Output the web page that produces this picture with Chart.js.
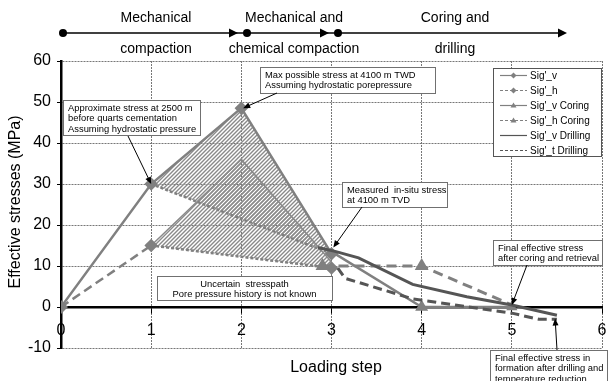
<!DOCTYPE html>
<html>
<head>
<meta charset="utf-8">
<script src="https://cdn.jsdelivr.net/npm/chart.js@4.4.0/dist/chart.umd.min.js"></script>
<style>
html, body { margin: 0; padding: 0; background: #fff; }
#wrap { width: 610px; height: 381px; }
</style>
</head>
<body>
<div id="wrap"><canvas id="myChart"></canvas></div>
<script>
// effective stresses (MPa) against loading step
var sigVSteps = [0, 1, 2, 3];
var sigV = [0, 30, 48.5, 13];
var sigHSteps = [0, 1, 3];
var sigH = [0, 15, 9.5];
var lowerEdgeSteps = [1, 3];        // dotted lower edge of the upper band
var lowerEdge = [30, 13];
var upperEdgeSteps = [1, 2, 3];     // thin upper edge of the lower band
var upperEdge = [15, 36, 11];
var sigVCoringSteps = [3, 4, 5];
var sigVCoring = [13.5, 0, 0];
var sigHCoringSteps = [2.9, 4, 5];
var sigHCoring = [10, 10, 0.5];
var sigVDrillSteps = [2.85, 3.05, 3.3, 3.9, 4.5, 5, 5.5];
var sigVDrill = [14.5, 13.5, 12, 5.5, 2.5, 0.5, -2];
var sigTDrillSteps = [3.07, 3.15, 3.9, 5, 5.3, 5.5];
var sigTDrill = [9.5, 7, 2, -1.5, -3, -3];

var phaseTop = ['Mechanical', 'Mechanical and', 'Coring and'];
var phaseBottom = ['compaction', 'chemical compaction', 'drilling'];

var FONT = '"Liberation Sans", Arial, sans-serif';
var grey = '#808080';
var dark = '#555555';

function pts(xs, ys) {
    return xs.map(function (x, i) { return {x: x, y: ys[i]}; });
}

function makeHatch() {
    var c = document.createElement('canvas');
    c.width = 4; c.height = 4;
    var g = c.getContext('2d');
    g.strokeStyle = '#8a8a8a';
    g.lineWidth = 1.4;
    g.beginPath();
    g.moveTo(0, 4); g.lineTo(4, 0);
    g.moveTo(-1, 1); g.lineTo(1, -1);
    g.moveTo(3, 5); g.lineTo(5, 3);
    g.stroke();
    return g.createPattern(c, 'repeat');
}

function arrow(ctx, x1, y1, x2, y2) {
    var a = Math.atan2(y2 - y1, x2 - x1);
    ctx.strokeStyle = '#000';
    ctx.fillStyle = '#000';
    ctx.lineWidth = 1;
    ctx.beginPath();
    ctx.moveTo(x1, y1);
    ctx.lineTo(x2 - 5 * Math.cos(a), y2 - 5 * Math.sin(a));
    ctx.stroke();
    ctx.beginPath();
    ctx.moveTo(x2, y2);
    ctx.lineTo(x2 - 7 * Math.cos(a) + 3 * Math.sin(a), y2 - 7 * Math.sin(a) - 3 * Math.cos(a));
    ctx.lineTo(x2 - 7 * Math.cos(a) - 3 * Math.sin(a), y2 - 7 * Math.sin(a) + 3 * Math.cos(a));
    ctx.closePath();
    ctx.fill();
}

function noteBox(ctx, b) {
    ctx.fillStyle = '#fff';
    ctx.fillRect(b.x, b.y, b.w, b.h);
    ctx.strokeStyle = '#707070';
    ctx.lineWidth = 1;
    ctx.strokeRect(b.x + 0.5, b.y + 0.5, b.w, b.h);
    ctx.fillStyle = '#000';
    ctx.font = '9.4px ' + FONT;
    ctx.textBaseline = 'top';
    ctx.textAlign = b.center ? 'center' : 'left';
    b.lines.forEach(function (t, i) {
        ctx.fillText(t, b.center ? b.x + b.w / 2 : b.x + 5, b.y + 3.5 + i * 10.5);
    });
}

var notes = [
    {x: 63, y: 100, w: 137, h: 35, lines: ['Approximate stress at 2500 m', 'before quarts cementation', 'Assuming hydrostatic pressure'],
     from: [128, 136], to: [1, 30]},
    {x: 260, y: 67, w: 175, h: 26, lines: ['Max possible stress at 4100 m TWD', 'Assuming hydrostatic porepressure'],
     from: [277, 93], to: [2.02, 48.5]},
    {x: 342, y: 182, w: 105, h: 25, lines: ['Measured  in-situ stress', 'at 4100 m TVD'],
     from: [362, 207], to: [3.02, 14.5]},
    {x: 493, y: 240, w: 109, h: 25, lines: ['Final effective stress', 'after coring and retrieval'],
     from: [527, 265], to: [5, 0.5]},
    {x: 157, y: 276, w: 175, h: 24, center: true, lines: ['Uncertain  stresspath', 'Pore pressure history is not known']},
    {x: 490, y: 350, w: 117, h: 40, lines: ['Final effective stress in', 'formation after drilling and', 'temperature reduction'],
     from: [557, 350], to: [5.48, -2.8]}
];

var hatch = makeHatch();

var extras = {
    id: 'extras',
    beforeDatasetsDraw: function (chart) {
        var ctx = chart.ctx, xs = chart.scales.x, ys = chart.scales.y, a = chart.chartArea;
        // hatched uncertainty bands, built from the series above
        var bandA = pts(sigVSteps.slice(1), sigV.slice(1));
        var bandB = pts(upperEdgeSteps, upperEdge).concat(pts([sigHSteps[2]], [sigH[2]]));
        ctx.save();
        ctx.beginPath();
        ctx.rect(a.left, a.top, a.right - a.left, a.bottom - a.top);
        ctx.clip();
        ctx.fillStyle = hatch;
        [bandA, bandB].forEach(function (poly) {
            ctx.beginPath();
            poly.forEach(function (p, i) {
                var px = xs.getPixelForValue(p.x), py = ys.getPixelForValue(p.y);
                if (i === 0) ctx.moveTo(px, py); else ctx.lineTo(px, py);
            });
            ctx.closePath();
            ctx.fill();
        });
        ctx.restore();
    },
    afterDraw: function (chart) {
        var ctx = chart.ctx, xs = chart.scales.x, ys = chart.scales.y;
        ctx.save();

        // phase timeline above the plot
        var ly = 33;
        ctx.strokeStyle = '#000';
        ctx.fillStyle = '#000';
        ctx.lineWidth = 1.5;
        ctx.beginPath(); ctx.moveTo(63, ly); ctx.lineTo(560, ly); ctx.stroke();
        [[238, ly], [329, ly], [567, ly]].forEach(function (p) {
            ctx.beginPath();
            ctx.moveTo(p[0], p[1]);
            ctx.lineTo(p[0] - 9, p[1] - 4.5);
            ctx.lineTo(p[0] - 9, p[1] + 4.5);
            ctx.closePath();
            ctx.fill();
        });
        [63, 247, 338].forEach(function (x) {
            ctx.beginPath(); ctx.arc(x, ly, 4, 0, Math.PI * 2); ctx.fill();
        });
        ctx.font = '14px ' + FONT;
        ctx.textAlign = 'center';
        ctx.textBaseline = 'middle';
        [156, 294, 455].forEach(function (x, i) {
            ctx.fillText(phaseTop[i], x, 18);
            ctx.fillText(phaseBottom[i], x, 49);
        });

        // axis titles
        ctx.font = '16px ' + FONT;
        ctx.fillText('Loading step', 336, 368);
        ctx.save();
        ctx.translate(16, 202);
        ctx.rotate(-Math.PI / 2);
        ctx.fillText('Effective stresses (MPa)', 0, 0);
        ctx.restore();

        // notes with arrows
        notes.forEach(function (n) {
            noteBox(ctx, n);
            if (n.to) arrow(ctx, n.from[0], n.from[1], xs.getPixelForValue(n.to[0]), ys.getPixelForValue(n.to[1]));
        });

        // legend box
        var lx = 493, ly0 = 68;
        ctx.fillStyle = '#fff';
        ctx.fillRect(lx, ly0, 108, 88);
        ctx.strokeStyle = '#555';
        ctx.lineWidth = 1;
        ctx.strokeRect(lx + 0.5, ly0 + 0.5, 108, 88);
        ctx.font = '10px ' + FONT;
        ctx.textAlign = 'left';
        ctx.textBaseline = 'middle';
        chart.data.datasets.filter(function (d) { return d.legendOrder; })
            .sort(function (p, q) { return p.legendOrder - q.legendOrder; })
            .forEach(function (d, i) {
            var y = ly0 + 7.5 + i * 15;
            ctx.strokeStyle = d.borderColor;
            ctx.fillStyle = d.borderColor;
            ctx.lineWidth = 1.2;
            ctx.setLineDash(d.legendDash || []);
            ctx.beginPath(); ctx.moveTo(lx + 7, y); ctx.lineTo(lx + 34, y); ctx.stroke();
            ctx.setLineDash([]);
            if (d.pointStyle === 'rectRot') {
                ctx.beginPath();
                ctx.moveTo(lx + 20.5, y - 3); ctx.lineTo(lx + 23.5, y); ctx.lineTo(lx + 20.5, y + 3); ctx.lineTo(lx + 17.5, y);
                ctx.closePath(); ctx.fill();
            } else if (d.pointStyle === 'triangle') {
                ctx.beginPath();
                ctx.moveTo(lx + 20.5, y - 3); ctx.lineTo(lx + 23.5, y + 2); ctx.lineTo(lx + 17.5, y + 2);
                ctx.closePath(); ctx.fill();
            }
            ctx.fillStyle = '#000';
            ctx.fillText(d.label, lx + 37, y + 0.5);
        });
        ctx.restore();
    }
};

var ctx = document.getElementById('myChart').getContext('2d');

var myChart = new Chart(ctx, {
    type: 'line',
    data: {
        datasets: [
            {label: "Sig'_v Drilling", data: pts(sigVDrillSteps, sigVDrill), borderColor: dark, borderWidth: 3,
             pointRadius: 0, legendOrder: 5},
            {label: "Sig'_t Drilling", data: pts(sigTDrillSteps, sigTDrill), borderColor: dark, borderWidth: 3,
             borderDash: [9, 5], pointRadius: 0, legendOrder: 6, legendDash: [3, 2]},
            {label: "Sig'_v Coring", data: pts(sigVCoringSteps, sigVCoring), borderColor: grey, backgroundColor: grey,
             borderWidth: 2.5, pointStyle: 'triangle', pointRadius: [0, 5, 4], legendOrder: 3},
            {label: "Sig'_h Coring", data: pts(sigHCoringSteps, sigHCoring), borderColor: grey, backgroundColor: grey,
             borderWidth: 3, borderDash: [10, 6], pointStyle: 'triangle', pointRadius: [5, 5, 0], legendOrder: 4, legendDash: [3, 2]},
            {label: "Sig'_v", data: pts(sigVSteps, sigV), borderColor: grey, backgroundColor: grey, borderWidth: 2.5,
             pointStyle: 'rectRot', pointRadius: 5, legendOrder: 1},
            {label: "Sig'_h", data: pts(sigHSteps, sigH), borderColor: grey, backgroundColor: grey, borderWidth: 2.5,
             segment: {borderDash: function (c) { return c.p0DataIndex === 0 ? [9, 5] : [3, 2]; }},
             pointStyle: 'rectRot', pointRadius: 5, legendOrder: 2, legendDash: [3, 2]},
            {label: 'lower edge', data: pts(lowerEdgeSteps, lowerEdge), borderColor: grey, borderWidth: 2.5,
             borderDash: [3, 2], pointRadius: 0},
            {label: 'upper edge', data: pts(upperEdgeSteps, upperEdge), borderColor: '#8a8a8a', borderWidth: 1.5,
             pointRadius: 0}
        ]
    },
    options: {
        responsive: true,
        maintainAspectRatio: false,
        animation: false,
        layout: { padding: {left: 0, right: 3, top: 61, bottom: 33} },
        elements: { line: { tension: 0, fill: false } },
        plugins: { legend: { display: false }, tooltip: { enabled: false } },
        scales: {
            x: {
                type: 'linear',
                position: {y: 0},
                min: 0, max: 6,
                ticks: { stepSize: 1, color: '#000', font: {family: FONT, size: 16}, padding: 9, maxRotation: 0 },
                grid: { color: '#777', lineWidth: 1, tickLength: 5, tickColor: '#000', tickWidth: 1, tickBorderDash: [] },
                border: { color: '#000', width: 2.5, dash: [2, 1] },
                afterFit: function (s) { s.paddingLeft = 0; s.paddingRight = 0; }
            },
            y: {
                min: -10, max: 60,
                ticks: { stepSize: 10, color: '#000', font: {family: FONT, size: 16}, padding: 6 },
                grid: { color: '#777', lineWidth: 1, tickLength: 4, tickColor: '#000', tickBorderDash: [] },
                border: { color: '#000', width: 2.5, dash: [2, 1] },
                afterFit: function (s) { s.width = 61; }
            }
        }
    },
    plugins: [extras]
});
</script>
</body>
</html>
